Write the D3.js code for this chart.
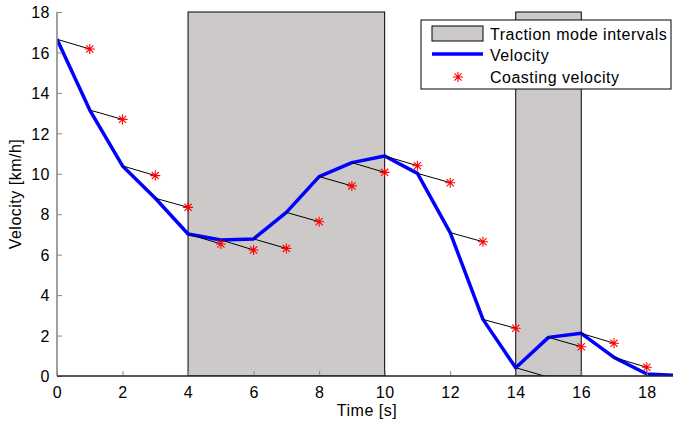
<!DOCTYPE html>
<html>
<head>
<meta charset="utf-8">
<script src="https://cdn.jsdelivr.net/npm/d3@7"></script>
<style>
  body { margin: 0; background: #fff; }
  svg { display: block; font-family: "Liberation Sans", Arial, sans-serif; }
</style>
</head>
<body>
<div id="chart"></div>
<script>
// time samples and measured velocity [km/h]
const time = [0, 1, 2, 3, 4, 5, 6, 7, 8, 9, 10, 11, 12, 13, 14, 15, 16, 17, 18, 19];
const velocity = [16.65, 13.15, 10.39, 8.79, 7.02, 6.73, 6.78, 8.09, 9.86, 10.55, 10.88, 10.02, 7.09, 2.80, 0.41, 1.91, 2.11, 0.92, 0.10, 0.02];

// coasting velocity predicted one second ahead
const coastTime = [1, 2, 3, 4, 5, 6, 7, 8, 9, 10, 11, 12, 13, 14, 15, 16, 17, 18];
const coasting = [16.17, 12.69, 9.91, 8.34, 6.53, 6.23, 6.31, 7.63, 9.40, 10.07, 10.40, 9.56, 6.64, 2.36, -0.06, 1.45, 1.62, 0.43];

// traction mode intervals
const tractionStart = [4, 14];
const tractionEnd = [10, 16];

const xTicks = [0, 2, 4, 6, 8, 10, 12, 14, 16, 18];
const yTicks = [0, 2, 4, 6, 8, 10, 12, 14, 16, 18];

const legendLabels = ['Traction mode intervals', 'Velocity', 'Coasting velocity'];

const width = 673;
const height = 425;
const margin = { top: 12, right: 0, bottom: 49, left: 57 };
const fontSize = '16px';

const svg = d3.select('#chart')
  .append('svg')
  .attr('width', width)
  .attr('height', height);

const x = d3.scaleLinear().domain([0, 18.8]).range([margin.left, width - margin.right]);
const y = d3.scaleLinear().domain([0, 18]).range([height - margin.bottom, margin.top]);

svg.append('clipPath').attr('id', 'plot-clip')
  .append('rect')
  .attr('x', x(0)).attr('y', y(18) - 1)
  .attr('width', x(18.8) - x(0)).attr('height', y(0) - y(18) + 1);

const plot = svg.append('g').attr('clip-path', 'url(#plot-clip)');

// shaded traction intervals
plot.selectAll('rect.traction')
  .data(tractionStart.map((s, i) => ({ s, e: tractionEnd[i] })))
  .enter()
  .append('rect')
  .attr('class', 'traction')
  .attr('x', d => x(d.s))
  .attr('y', y(18))
  .attr('width', d => x(d.e) - x(d.s))
  .attr('height', y(0) - y(18))
  .attr('fill', '#cdc9c9')
  .attr('stroke', '#000')
  .attr('stroke-width', 1);

// axes
const xAxis = d3.axisBottom(x).tickValues(xTicks).tickSize(-5).tickPadding(11).tickFormat(d3.format('d'));
const yAxis = d3.axisLeft(y).tickValues(yTicks).tickSize(-5).tickPadding(7).tickFormat(d3.format('d'));

const gx = svg.append('g').attr('transform', `translate(0,${y(0)})`).call(xAxis);
const gy = svg.append('g').attr('transform', `translate(${x(0)},0)`).call(yAxis);

gx.select('.domain').remove();
gy.select('.domain').remove();
gx.selectAll('line').attr('stroke', '#888');
gy.selectAll('line').attr('stroke', '#888');
[gx, gy].forEach(g => g.selectAll('text')
  .attr('fill', '#000')
  .style('font-size', fontSize)
  .style('letter-spacing', '0.5px')
  .style('font-family', '"Liberation Sans", Arial, sans-serif'));
gy.selectAll('text').attr('dy', '0.36em');

svg.append('line')
  .attr('x1', x(0)).attr('x2', width)
  .attr('y1', y(0)).attr('y2', y(0))
  .attr('stroke', '#222').attr('stroke-width', 1.5);
svg.append('line')
  .attr('x1', x(0)).attr('x2', x(0))
  .attr('y1', y(18)).attr('y2', y(0))
  .attr('stroke', '#808080').attr('stroke-width', 1.5);

// velocity line
const line = d3.line().x((d, i) => x(time[i])).y(d => y(d));
plot.append('path')
  .datum(velocity)
  .attr('d', line)
  .attr('fill', 'none')
  .attr('stroke', '#0000ff')
  .attr('stroke-width', 3.5)
  .attr('stroke-linejoin', 'round');

// thin segments from velocity to next coasting value
plot.selectAll('line.coast')
  .data(coastTime.map((t, i) => ({ t, c: coasting[i], v: velocity[time.indexOf(t - 1)] })))
  .enter()
  .append('line')
  .attr('class', 'coast')
  .attr('x1', d => x(d.t - 1))
  .attr('y1', d => y(d.v))
  .attr('x2', d => x(d.t))
  .attr('y2', d => y(d.c))
  .attr('stroke', '#000')
  .attr('stroke-width', 1);

// MATLAB-style '*' marker; markers outside the y range are not drawn
const starPath = 'M-5,0L5,0M0,-5L0,5M-3.6,-3.6L3.6,3.6M-3.6,3.6L3.6,-3.6';

plot.selectAll('path.star')
  .data(coastTime.map((t, i) => ({ t, c: coasting[i] })).filter(d => d.c >= 0))
  .enter()
  .append('path')
  .attr('class', 'star')
  .attr('transform', d => `translate(${x(d.t)},${y(d.c)})`)
  .attr('d', starPath)
  .attr('stroke', '#ff0000')
  .attr('stroke-width', 1.1)
  .attr('fill', 'none');

// axis labels
svg.append('text')
  .attr('x', (x(0) + width) / 2 + 2)
  .attr('y', 416)
  .attr('text-anchor', 'middle')
  .style('font-size', fontSize)
  .style('letter-spacing', '0.5px')
  .text('Time [s]');

svg.append('text')
  .attr('transform', `translate(21,${(y(0) + y(18)) / 2}) rotate(-90)`)
  .attr('text-anchor', 'middle')
  .style('font-size', fontSize)
  .style('letter-spacing', '0.5px')
  .text('Velocity [km/h]');

// legend
const legend = svg.append('g');
legend.append('rect')
  .attr('x', 421).attr('y', 20)
  .attr('width', 250).attr('height', 69)
  .attr('fill', '#fff')
  .attr('stroke', '#000')
  .attr('stroke-width', 1);

legend.append('rect')
  .attr('x', 432).attr('y', 26)
  .attr('width', 51).attr('height', 15)
  .attr('fill', '#cdc9c9')
  .attr('stroke', '#000');

legend.append('line')
  .attr('x1', 432).attr('x2', 483)
  .attr('y1', 54).attr('y2', 54)
  .attr('stroke', '#0000ff')
  .attr('stroke-width', 3.5);

legend.append('path')
  .attr('transform', 'translate(458,77)')
  .attr('d', starPath)
  .attr('stroke', '#ff0000')
  .attr('stroke-width', 1.1)
  .attr('fill', 'none');

legend.selectAll('text.leg')
  .data(legendLabels)
  .enter()
  .append('text')
  .attr('class', 'leg')
  .attr('x', 490)
  .attr('y', (d, i) => [34, 55, 77][i])
  .attr('dy', '0.36em')
  .style('font-size', fontSize)
  .style('letter-spacing', '0.5px')
  .text(d => d);
</script>
</body>
</html>
